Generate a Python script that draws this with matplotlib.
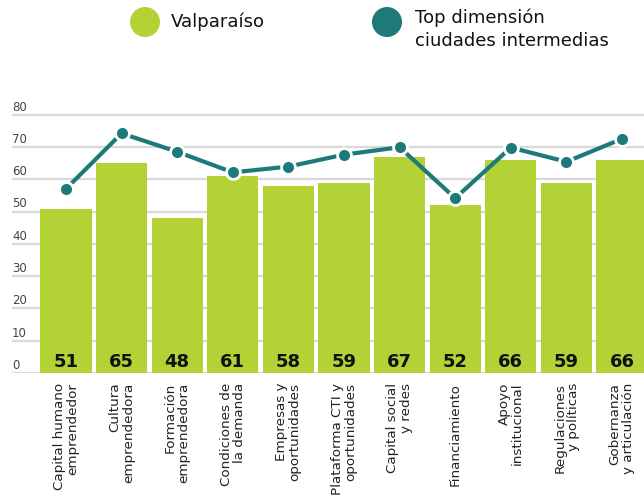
import matplotlib
matplotlib.use("Agg")
import matplotlib.pyplot as plt
from matplotlib.patches import Circle
from matplotlib.transforms import blended_transform_factory

# Dimension names (x axis) and scores
categories = [
    "Capital humano\nemprendedor",
    "Cultura\nemprendedora",
    "Formación\nemprendedora",
    "Condiciones de\nla demanda",
    "Empresas y\noportunidades",
    "Plataforma CTI y\noportunidades",
    "Capital social\ny redes",
    "Financiamiento",
    "Apoyo\ninstitucional",
    "Regulaciones\ny políticas",
    "Gobernanza\ny articulación",
]
valparaiso = [51, 65, 48, 61, 58, 59, 67, 52, 66, 59, 66]
top_intermedias = [57.1, 74.3, 68.6, 62.2, 64.0, 67.7, 70.0, 54.2, 69.9, 65.5, 72.6]
y_ticks = [0, 10, 20, 30, 40, 50, 60, 70, 80]

GREEN = "#b3d236"
TEAL = "#1d7a78"
GRID = "#d9d9d9"

plt.rcParams["font.family"] = ["DejaVu Sans"]

fig = plt.figure(figsize=(6.44, 4.99), dpi=100)
ax = fig.add_axes([12 / 644, 0.2525, 632 / 644, 0.530])

x = list(range(len(categories)))
ax.set_xlim(-0.971, 10.396)
ax.set_ylim(0, 82)

for v in y_ticks:
    ax.axhline(v, color=GRID, lw=1.6, zorder=0)

ax.bar(x, valparaiso, width=0.92, color=GREEN, zorder=2)

ax.plot(x, top_intermedias, color=TEAL, lw=3.0, zorder=3,
        marker="o", markersize=10, markerfacecolor=TEAL,
        markeredgecolor="white", markeredgewidth=2, clip_on=False)

for xi, v in zip(x, valparaiso):
    ax.text(xi, 2.0, f"{v}", ha="center", va="baseline",
            fontsize=13, fontweight="semibold", color="#111111", zorder=4)

trans = blended_transform_factory(ax.transAxes, ax.transData)
for v in y_ticks:
    ax.text(0.0, v + 2.4, f"{v}", transform=trans, ha="left", va="center",
            fontsize=8.5, color="#444444")

ax.set_xticks(x)
ax.set_xticklabels(categories, rotation=90, ha="center", va="top",
                   multialignment="right", fontsize=9.7, color="#222222",
                   linespacing=1.05)
ax.tick_params(axis="x", length=0, pad=7)
ax.tick_params(axis="y", left=False, labelleft=False)
for s in ax.spines.values():
    s.set_visible(False)

# Legend drawn in figure inches
fig.add_artist(Circle((1.45, 4.77), 0.15, transform=fig.dpi_scale_trans,
                      facecolor=GREEN, edgecolor="none"))
fig.text(1.71, 4.77, "Valparaíso", transform=fig.dpi_scale_trans,
         ha="left", va="center", fontsize=13, color="#111111")
fig.add_artist(Circle((3.87, 4.77), 0.15, transform=fig.dpi_scale_trans,
                      facecolor=TEAL, edgecolor="none"))
fig.text(4.15, 4.90, "Top dimensión\nciudades intermedias",
         transform=fig.dpi_scale_trans, ha="left", va="top",
         fontsize=13, color="#111111", linespacing=1.35)

fig.savefig("out.png", dpi=100)
